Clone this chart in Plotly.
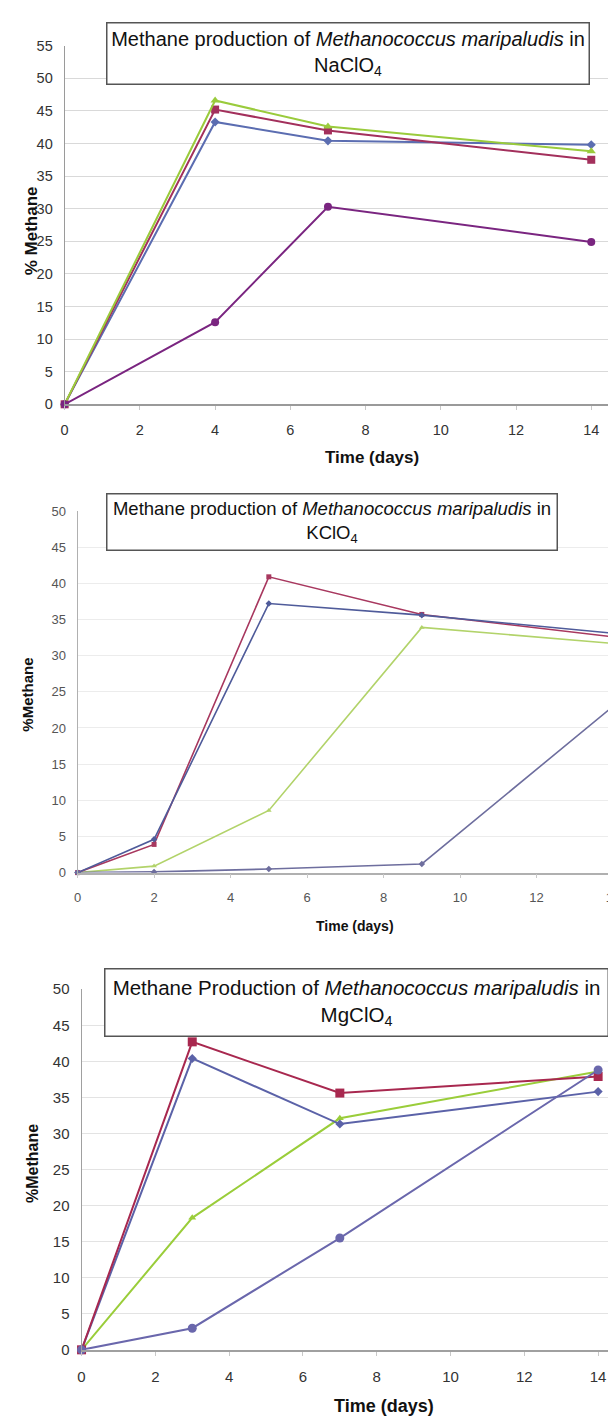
import plotly.graph_objects as go

W, H = 616, 1418
FONT = "Liberation Sans, Arial, Helvetica, sans-serif"

# ---------------- data ----------------
# Panel 1: NaClO4
na_days = [0, 4, 7, 14]
na_blue = [0, 43.3, 40.4, 39.8]
na_red = [0, 45.2, 42.0, 37.5]
na_green = [0, 46.6, 42.6, 38.8]
na_purple = [0, 12.6, 30.3, 24.9]

# Panel 2: KClO4
k_days = [0, 2, 5, 9, 14]
k_red = [0, 3.9, 40.9, 35.7, 32.6]
k_blue = [0, 4.6, 37.2, 35.6, 33.1]
k_green = [0, 0.9, 8.6, 33.9, 31.7]
k_purple = [0, 0.1, 0.5, 1.2, 23.0]

# Panel 3: MgClO4
mg_days = [0, 3, 7, 14]
mg_red = [0, 42.7, 35.6, 37.9]
mg_blue = [0, 40.4, 31.3, 35.8]
mg_green = [0, 18.3, 32.1, 38.6]
mg_purple = [0, 3.0, 15.5, 38.8]

x_ticks = [0, 2, 4, 6, 8, 10, 12, 14]
titles = [
    "Methane production of <i>Methanococcus maripaludis</i> in<br>NaClO<sub>4</sub>",
    "Methane production of <i>Methanococcus maripaludis</i> in<br>KClO<sub>4</sub>",
    "Methane Production of <i>Methanococcus maripaludis</i> in<br>MgClO<sub>4</sub>",
]
y_titles = ["% Methane", "%Methane", "%Methane"]
x_title = "Time (days)"

fig = go.Figure()


def add(xs, ys, axis, color, symbol, size, width):
    fig.add_trace(go.Scatter(
        x=xs, y=ys, mode="lines+markers", xaxis="x" + axis, yaxis="y" + axis,
        line=dict(color=color, width=width),
        marker=dict(symbol=symbol, size=size, color=color),
        cliponaxis=False, showlegend=False, hoverinfo="x+y"))


# panel 1
add(na_days, na_blue, "", "#5B6DB1", "diamond", 7, 2)
add(na_days, na_red, "", "#A3305C", "square", 8, 2)
add(na_days, na_green, "", "#9ACB3C", "triangle-up", 8, 2)
add(na_days, na_purple, "", "#7A2580", "circle", 8, 2)

# panel 2
add(k_days, k_green, "2", "#B2D36A", "triangle-up", 5, 1.6)
add(k_days, k_red, "2", "#A8385F", "square", 5, 1.6)
add(k_days, k_blue, "2", "#4F5B9A", "diamond", 5, 1.6)
add(k_days, k_purple, "2", "#6E6E9E", "diamond", 5, 1.6)

# panel 3
add(mg_days, mg_green, "3", "#9ACD3A", "triangle-up", 7, 2)
add(mg_days, mg_blue, "3", "#5B62A8", "diamond", 7, 2)
add(mg_days, mg_red, "3", "#A8284F", "square", 9, 2)
add(mg_days, mg_purple, "3", "#6A67AC", "circle", 9, 2)

# layout geometry (pixels)
panels = [
    dict(x0=53, xr=603, ppd=37.86, y0=392, yt=29, ymax=55, dtick=5, tf=14.5, tc="#333333", gc="#d9d9d9", lc="#9a9a9a"),
    dict(x0=66, xr=616, ppd=38.5, y0=866, yt=500, ymax=50, dtick=5, tf=13, tc="#555555", gc="#ececec", lc="#b0b0b0"),
    dict(x0=70, xr=604, ppd=37.14, y0=1349, yt=984, ymax=50, dtick=5, tf=15, tc="#333333", gc="#e3e3e3", lc="#a0a0a0"),
]

layout = dict(width=W, height=H, margin=dict(l=0, r=0, t=0, b=0),
              paper_bgcolor="white", plot_bgcolor="white",
              font=dict(family=FONT, color="#222"))

for i, p in enumerate(panels):
    suf = "" if i == 0 else str(i + 1)
    layout["xaxis" + suf] = dict(
        domain=[p["x0"] / W, p["xr"] / W],
        range=[0, (p["xr"] - p["x0"]) / p["ppd"]],
        tickvals=x_ticks, showgrid=False, zeroline=False,
        showline=True, linecolor=p["lc"], linewidth=1.5,
        ticks="outside", ticklen=4, tickcolor="#c8c8c8",
        tickfont=dict(size=p["tf"], color=p["tc"], family=FONT),
        ticklabelstandoff=8, anchor="y" + suf, fixedrange=True)
    layout["yaxis" + suf] = dict(
        domain=[1 - p["y0"] / H, 1 - p["yt"] / H],
        range=[0, p["ymax"]], dtick=p["dtick"], showgrid=True,
        gridcolor=p["gc"], gridwidth=1, zeroline=False,
        showline=True, linecolor=p["lc"], linewidth=1,
        ticks="", tickfont=dict(size=p["tf"], color=p["tc"], family=FONT),
        ticklabelstandoff=8, anchor="x" + suf, fixedrange=True)

fig.update_layout(**layout)

# title boxes: (cx, cy, w, h, font size)
boxes = [(338, 37, 481, 60, 20), (322, 511, 449, 55, 18.5), (347, 997, 502, 66, 20.5)]
for t, (cx, cy, bw, bh, fs) in zip(titles, boxes):
    fig.add_annotation(
        text=t, xref="paper", yref="paper", x=cx / W, y=1 - cy / H,
        xanchor="center", yanchor="middle", showarrow=False,
        width=bw, height=bh, align="center", valign="middle",
        bgcolor="white", bordercolor="#555555", borderwidth=1.5, borderpad=0,
        font=dict(size=fs, color="#111", family=FONT))

# axis titles
ytitle_pos = [(20, 216, 17), (16, 686, 15), (20, 1160, 16)]
for t, (cx, cy, fs) in zip(y_titles, ytitle_pos):
    fig.add_annotation(
        text="<b>" + t + "</b>", xref="paper", yref="paper", x=cx / W, y=1 - cy / H,
        xanchor="center", yanchor="middle", showarrow=False, textangle=-90,
        font=dict(size=fs, color="#111", family=FONT))

xtitle_pos = [(362, 446, 17), (345, 920, 14), (374, 1406, 18)]
for cx, cy, fs in xtitle_pos:
    fig.add_annotation(
        text="<b>" + x_title + "</b>", xref="paper", yref="paper", x=cx / W, y=1 - cy / H,
        xanchor="center", yanchor="middle", showarrow=False,
        font=dict(size=fs, color="#111", family=FONT))

fig.write_html("out.html")
